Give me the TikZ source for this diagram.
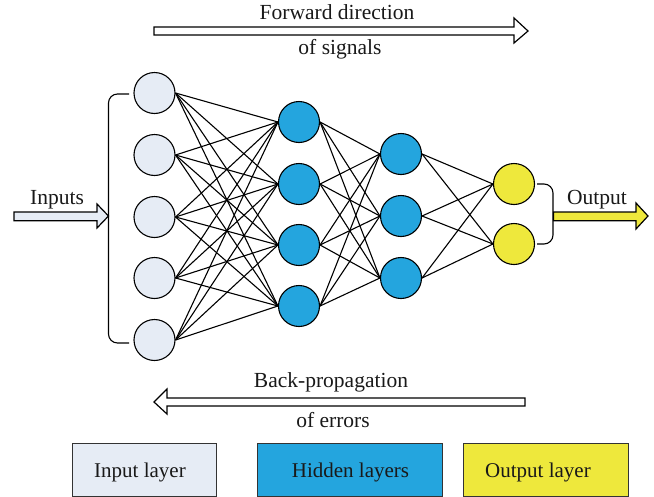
\documentclass[tikz,border=0pt]{standalone}
\usepackage{fontspec}
\setmainfont{Liberation Serif}
\definecolor{inputfill}{HTML}{E6ECF5}
\definecolor{hiddenfill}{HTML}{24A5DE}
\definecolor{outputfill}{HTML}{EEE83C}
\definecolor{boxedge}{HTML}{333333}
\tikzset{
  neuron/.style={circle,draw=black,line width=1.1pt,minimum size=41pt,inner sep=0pt},
  inneuron/.style={neuron,fill=inputfill},
  hidneuron/.style={neuron,fill=hiddenfill},
  outneuron/.style={neuron,fill=outputfill},
  link/.style={black,line width=1.1pt},
  bracket/.style={draw=black,line width=1.1pt,rounded corners=9pt},
  flow/.style={draw=black,line width=1.2pt,line join=miter},
  label/.style={font=\fontsize{21.5}{24}\selectfont,inner sep=0pt,text=black!90},
  legendbox/.style={draw=boxedge,line width=1.2pt,anchor=north west,inner sep=0pt,minimum height=52.5pt},
  legendtext/.style={font=\fontsize{21}{24}\selectfont,inner sep=0pt,text=black!90}
}
\begin{document}
\begin{tikzpicture}[x=1pt,y=-1pt]
\useasboundingbox (0,0) rectangle (654,496);
\foreach \n/\yy in {1/93,2/155,3/217,4/278,5/340} \node[inneuron] (a\n) at (154.5,\yy) {};
\foreach \n/\yy in {1/122,2/184,3/245,4/306} \node[hidneuron] (b\n) at (299,\yy) {};
\foreach \n/\yy in {1/154,2/216,3/278} \node[hidneuron] (c\n) at (401,\yy) {};
\foreach \n/\yy in {1/184,2/244} \node[outneuron] (d\n) at (514,\yy) {};
\foreach \i in {1,...,5} \foreach \j in {1,...,4} \draw[link] (a\i.east) -- (b\j.west);
\foreach \i in {1,...,4} \foreach \j in {1,...,3} \draw[link] (b\i.east) -- (c\j.west);
\foreach \i in {1,...,3} \foreach \j in {1,2} \draw[link] (c\i.east) -- (d\j.west);
% brackets
\coordinate (lt) at (129,94); \coordinate (lb) at (129,343);
\coordinate (rt) at (537,184); \coordinate (rb) at (537,244);
\draw[bracket] (lt) -- (108.5,94) -- (108.5,343) -- (lb);
\draw[bracket] (rt) -- (553,184) -- (553,244) -- (rb);
% arrows
\draw[flow,fill=white] (154,27) -- (514,27) -- (514,18) -- (528,31) -- (514,43) -- (514,35) -- (154,35) -- cycle;
\draw[flow,fill=white] (525,398) -- (167,398) -- (167,389) -- (154,402) -- (167,414) -- (167,406) -- (525,406) -- cycle;
\draw[flow,fill=inputfill] (14,212) -- (97,212) -- (97,204) -- (108.5,216) -- (97,228) -- (97,220.7) -- (14,220.7) -- cycle;
\draw[flow,fill=outputfill] (553.5,212) -- (636,212) -- (636,203) -- (648,216) -- (636,229) -- (636,220.7) -- (553.5,220.7) -- cycle;
% labels
\node[label] (tf) at (337,12) {Forward direction};
\node[label] (ts) at (340,49) {of signals};
\node[label] (tb) at (331,382) {Back-propagation};
\node[label] (te) at (333,420) {of errors};
\node[label] (ti) at (57,199.5) {Inputs};
\node[label] (to) at (597,199.5) {Output};
% legend
\node[legendbox,fill=inputfill,minimum width=144pt] (li) at (72,443) {};
\node[legendbox,fill=hiddenfill,minimum width=185pt] (lh) at (257,443) {};
\node[legendbox,fill=outputfill,minimum width=165pt] (lo) at (463,443) {};
\node[legendtext] (lit) at (140,472) {Input layer};
\node[legendtext] (lht) at (350.5,472) {Hidden layers};
\node[legendtext] (lot) at (538,472) {Output layer};
\end{tikzpicture}
\end{document}
